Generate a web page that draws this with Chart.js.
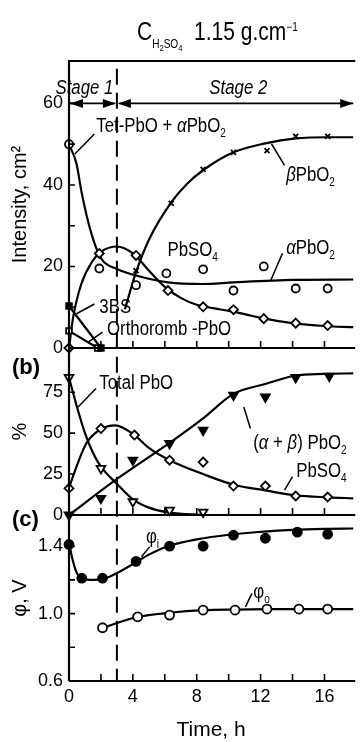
<!DOCTYPE html>
<html>
<head>
<meta charset="utf-8">
<script src="https://cdn.jsdelivr.net/npm/chart.js@4.4.0/dist/chart.umd.min.js"></script>
<style>
  html, body { margin: 0; padding: 0; background: #fff; overflow: hidden; }
</style>
</head>
<body>
<canvas id="grafico" width="360" height="742"></canvas>
<script>
var FUENTE = "'Liberation Sans', Arial, sans-serif";
var ANCHO = 0.84; // el texto del original es algo estrecho

// ---- panel (a): Intensity, cm2 ----
var tetCurva = [[0, 50], [0.47, 45.2], [0.77, 38.6], [1.18, 31.3], [1.69, 24.7], [2.1, 21.5], [3, 19.4], [4.2, 17.8], [6.2, 16.1], [8.4, 15.7], [10.3, 16.1], [14.1, 16.7], [17.8, 16.8]];
var tetPuntos = [[0, 50]];
var alfaPuntos = [[1.9, 19.5], [4.2, 15.4], [6.1, 18.3], [8.4, 19.3], [10.3, 14.1], [12.2, 20], [14.2, 14.6], [16.2, 14.6]];
var betaCurva = [[3.5, 9.5], [4.2, 18.6], [5, 26.5], [6.4, 35.7], [7.4, 40.3], [8.4, 43.6], [10.3, 48], [12.3, 50.2], [14.2, 51.4], [16.2, 51.7], [17.8, 51.7]];
var betaPuntos = [[4.2, 19], [6.4, 35.5], [8.4, 43.8], [10.3, 48], [12.4, 48.4], [14.2, 51.9], [16.2, 51.9]];
var sulfatoCurvaA = [[0, 0], [0.26, 7.5], [0.77, 15.7], [1.5, 21.5], [2, 23.6], [3, 24.9], [4, 23.2], [5, 19], [6, 15], [7, 12.3], [8, 10.6], [9, 9.8], [10, 9.1], [11, 8.3], [12, 7.4], [14, 6.1], [16, 5.4], [17.8, 5.1]];
var sulfatoPuntosA = [[0, 0], [1.9, 23.2], [4.2, 22.7], [6.2, 14.1], [8.4, 10.1], [10.3, 9.4], [12.2, 7.2], [14.2, 6.1], [16.2, 5.5]];
var tresBS = [[0, 10.3], [2, 0]];
var ortorromb = [[0, 4.2], [1.8, 0]];

// ---- panel (b): % ----
var totalCurva = [[0, 84], [0.5, 66], [1, 50], [1.5, 38], [2, 29.5], [3, 19], [4, 9.5], [5, 4.5], [6.3, 1.5], [8.4, 0]];
var totalPuntos = [[0, 84], [2, 28.5], [4, 8.1], [6.3, 3], [8.4, 1.8]];
var dioxCurva = [[0, 0], [2.9, 21.3], [6.3, 44], [8.4, 59], [10.3, 74], [12.3, 80], [14.2, 85.2], [16, 86.2], [17.8, 86.5]];
var dioxPuntos = [[0, 0], [2, 10.2], [4, 33.5], [6.3, 43.7], [8.4, 51.8], [10.3, 73.2], [12.3, 72.1], [14.2, 84], [16.3, 84.8]];
var sulfatoCurvaB = [[0, 16.5], [0.47, 29.5], [1.08, 43.7], [2, 52.5], [2.9, 54.8], [4.1, 48.8], [5, 41], [6.3, 33.5], [8.4, 25], [10.3, 18.5], [12.3, 15], [14.2, 12], [16.2, 10.8], [17.8, 10.2]];
var sulfatoPuntosB = [[0, 16.3], [2, 52.8], [4.1, 48.8], [6.3, 33.5], [8.4, 32.3], [10.3, 17.7], [12.3, 17.7], [14.2, 11.6], [16.2, 11]];

// ---- panel (c): potential, V ----
var fiICurva = [[0, 1.42], [0.2, 1.33], [0.45, 1.25], [0.8, 1.207], [1.5, 1.2], [2.2, 1.207], [3, 1.24], [4.2, 1.305], [5, 1.35], [6.2, 1.4], [8, 1.44], [10, 1.468], [12, 1.485], [14, 1.497], [16, 1.503], [17.8, 1.505]];
var fiIPuntos = [[0, 1.41], [0.8, 1.21], [2.1, 1.21], [4.2, 1.31], [6.3, 1.4], [8.4, 1.4], [10.3, 1.465], [12.3, 1.447], [14.3, 1.483], [16.2, 1.471]];
var fiOCurva = [[2.1, 0.916], [4.3, 0.98], [6.3, 1.005], [8.4, 1.02], [10.4, 1.024], [12.4, 1.026], [17.8, 1.027]];
var fiOPuntos = [[2.1, 0.916], [4.3, 0.981], [6.3, 0.991], [8.4, 1.021], [10.4, 1.021], [12.4, 1.027], [14.4, 1.027], [16.2, 1.027]];

// tick labels
var etiquetasX = [0, 4, 8, 12, 16];
var etiquetasA = [0, 20, 40, 60];
var etiquetasB = [0, 25, 50, 75];
var etiquetasC = [0.6, 1.0, 1.4];

// texts inside the plot (positions in data units of each panel)
var etiquetas = [
    {eje: 'ya', t: 1.71, v: 54.6, partes: [['Tet-PbO + '], ['α', 'i'], ['PbO'], ['2', 'sub']]},
    {eje: 'ya', t: 13.6, v: 42.6, partes: [['β', 'i'], ['PbO'], ['2', 'sub']]},
    {eje: 'ya', t: 13.6, v: 24.7, partes: [['α', 'i'], ['PbO'], ['2', 'sub']]},
    {eje: 'ya', t: 6.17, v: 24.4, partes: [['PbSO'], ['4', 'sub']]},
    {eje: 'ya', t: 1.9, v: 10.4, partes: [['3BS']]},
    {eje: 'ya', t: 2.38, v: 4.8, partes: [['Orthoromb -PbO']]},
    {eje: 'yb', t: 1.9, v: 81.3, partes: [['Total PbO']]},
    {eje: 'yb', t: 11.54, v: 44.7, partes: [['('], ['α', 'i'], [' + '], ['β', 'i'], [') PbO'], ['2', 'sub']]},
    {eje: 'yb', t: 14.23, v: 27.4, partes: [['PbSO'], ['4', 'sub']]},
    {eje: 'yc', t: 4.82, v: 1.459, partes: [['φ'], ['i', 'sub']]},
    {eje: 'yc', t: 11.54, v: 1.133, partes: [['φ'], ['o', 'sub']]}
];
var guias = [
    {eje: 'ya', de: [0.37, 47.6], a: [1.59, 52.5]},
    {eje: 'ya', de: [12.68, 50.1], a: [13.5, 44.8]},
    {eje: 'ya', de: [12.64, 16.6], a: [13.37, 23.2]},
    {eje: 'ya', de: [0.47, 8.4], a: [1.59, 10.8]},
    {eje: 'ya', de: [1.18, 1.4], a: [2.1, 3.9]},
    {eje: 'yb', de: [0.57, 66], a: [1.69, 77.3]},
    {eje: 'yb', de: [10.95, 66], a: [11.36, 52.8]},
    {eje: 'yb', de: [13.5, 15.2], a: [14.0, 23.4]},
    {eje: 'yc', de: [4.54, 1.337], a: [5.05, 1.396]},
    {eje: 'yc', de: [11.05, 1.04], a: [11.46, 1.12]}
];

function puntos(arr) {
    return arr.map(function (p) { return {x: p[0], y: p[1]}; });
}

function curva(arr, eje, suave) {
    return {
        data: puntos(arr), yAxisID: eje, showLine: true,
        borderColor: '#000', borderWidth: 2.2, pointRadius: 0,
        cubicInterpolationMode: suave ? 'monotone' : 'default', tension: 0,
        order: 2, clip: false
    };
}

function marcas(arr, eje, estilo, lleno, radio, giro) {
    return {
        data: puntos(arr), yAxisID: eje, showLine: false,
        pointStyle: estilo, pointRadius: radio, pointRotation: giro || 0,
        pointBackgroundColor: lleno ? '#000' : '#fff', pointBorderColor: '#000',
        pointBorderWidth: 1.8, order: 1, clip: false
    };
}

function fuente(tam, estilo) {
    return (estilo || '') + ' ' + tam + 'px ' + FUENTE;
}

// texto angosto, con subindices y cursivas
function escribir(ctx, partes, x, y, tam) {
    ctx.textAlign = 'left';
    ctx.textBaseline = 'alphabetic';
    partes.forEach(function (p) {
        var tipo = p[1] || 'n', size = tam, dy = 0, est = '';
        if (tipo === 'sub') { size = Math.round(tam * 0.62); dy = tam * 0.25; }
        if (tipo === 'subsub') { size = Math.round(tam * 0.34); dy = tam * 0.44; }
        if (tipo === 'sub2') { size = Math.round(tam * 0.46); dy = tam * 0.32; }
        if (tipo === 'sup') { size = Math.round(tam * 0.46); dy = -tam * 0.36; }
        if (tipo === 'i') est = 'italic';
        ctx.font = fuente(size, est);
        ctx.save();
        ctx.translate(x, y + dy);
        ctx.scale(ANCHO, 1);
        ctx.fillText(p[0], 0, 0);
        ctx.restore();
        x += ctx.measureText(p[0]).width * ANCHO;
    });
    return x;
}

function flecha(ctx, xp, yp, dir) {
    ctx.beginPath();
    ctx.moveTo(xp, yp);
    ctx.lineTo(xp - dir * 13, yp - 4.5);
    ctx.lineTo(xp - dir * 13, yp + 4.5);
    ctx.closePath();
    ctx.fill();
}

var anotaciones = {
    id: 'anotaciones',
    afterDraw: function (chart) {
        var ctx = chart.ctx, area = chart.chartArea, sc = chart.scales;
        var x = sc.x, paneles = [sc.ya, sc.yb, sc.yc];
        ctx.save();
        ctx.strokeStyle = '#000';
        ctx.fillStyle = '#000';

        // marco
        ctx.lineWidth = 2.2;
        ctx.beginPath();
        ctx.moveTo(area.right + 2, area.top);
        ctx.lineTo(area.left, area.top);
        ctx.lineTo(area.left, area.bottom);
        paneles.forEach(function (s) {
            ctx.moveTo(area.left, s.bottom);
            ctx.lineTo(area.right + 2, s.bottom);
        });
        ctx.stroke();

        // ticks hacia adentro
        ctx.lineWidth = 1.6;
        ctx.beginPath();
        paneles.forEach(function (s) {
            x.ticks.forEach(function (t) {
                if (t.value > 0 && t.value < x.max - 0.5) {
                    var px = x.getPixelForValue(t.value);
                    ctx.moveTo(px, s.bottom);
                    ctx.lineTo(px, s.bottom - 7);
                }
            });
            var paso = s.options.ticks.stepSize;
            s.ticks.forEach(function (t) {
                if (t.value > s.min + 1e-6 && t.value < s.max - paso / 2) {
                    var py = s.getPixelForValue(t.value);
                    ctx.moveTo(area.left, py);
                    ctx.lineTo(area.left + 6, py);
                }
            });
        });
        ctx.stroke();

        // linea discontinua t = 3 h
        var x3 = x.getPixelForValue(3);
        ctx.lineWidth = 2;
        ctx.setLineDash([16, 8]);
        ctx.beginPath();
        ctx.moveTo(x3, sc.ya.getPixelForValue(68.5));
        ctx.lineTo(x3, area.bottom);
        ctx.stroke();
        ctx.setLineDash([]);

        // flechas de etapas
        var y60 = sc.ya.getPixelForValue(60), x0 = x.getPixelForValue(0);
        ctx.lineWidth = 1.8;
        ctx.beginPath();
        ctx.moveTo(x0, y60); ctx.lineTo(x3 - 2, y60);
        ctx.moveTo(x3 + 2, y60); ctx.lineTo(area.right, y60);
        ctx.stroke();
        flecha(ctx, x0 + 1, y60, -1);
        flecha(ctx, x3 - 1, y60, 1);
        flecha(ctx, x3 + 1, y60, -1);
        flecha(ctx, area.right, y60, 1);
        var yEt = sc.ya.getPixelForValue(64.1) + 7;
        escribir(ctx, [['Stage 1', 'i']], x.getPixelForValue(-0.85), yEt, 20);
        escribir(ctx, [['Stage 2', 'i']], x.getPixelForValue(8.79), yEt, 20);

        // lineas guia
        ctx.lineWidth = 1.5;
        ctx.beginPath();
        guias.forEach(function (g) {
            ctx.moveTo(x.getPixelForValue(g.de[0]), sc[g.eje].getPixelForValue(g.de[1]));
            ctx.lineTo(x.getPixelForValue(g.a[0]), sc[g.eje].getPixelForValue(g.a[1]));
        });
        ctx.stroke();

        // rotulos de curvas
        etiquetas.forEach(function (e) {
            escribir(ctx, e.partes, x.getPixelForValue(e.t), sc[e.eje].getPixelForValue(e.v) + 7, 20);
        });

        // (b) y (c)
        ctx.font = 'bold 22px ' + FUENTE;
        ctx.textBaseline = 'middle';
        ctx.fillText('(b)', 12, 368);
        ctx.fillText('(c)', 12, 520);

        // titulo
        escribir(ctx, [['C'], ['H', 'sub2'], ['2', 'subsub'], ['SO', 'sub2'], ['4', 'subsub'], ['  1.15 g.cm'], ['\u22121', 'sup']], 137, 40, 25);
        ctx.restore();
    }
};

function ejeY(peso, orden, min, max, paso, lista, titulo, decimales) {
    return {
        type: 'linear', position: 'left', stack: 'paneles', stackWeight: peso, weight: orden,
        min: min, max: max,
        grid: {display: false, drawTicks: false},
        border: {display: false},
        ticks: {
            stepSize: paso, color: '#000', padding: 6, autoSkip: false, includeBounds: false,
            font: {family: FUENTE, size: 18},
            callback: function (v) {
                for (var i = 0; i < lista.length; i++) {
                    if (Math.abs(v - lista[i]) < 1e-6) return decimales ? lista[i].toFixed(1) : String(lista[i]);
                }
                return '';
            }
        },
        title: {display: true, text: titulo, color: '#000', font: {family: FUENTE, size: 20}, padding: {top: 8, bottom: 0}},
        afterFit: function (s) { s.width = 69; }
    };
}

var grafico = new Chart(document.getElementById('grafico'), {
    type: 'scatter',
    data: {
        datasets: [
            marcas(tetPuntos, 'ya', 'circle', false, 4),
            marcas(alfaPuntos, 'ya', 'circle', false, 4),
            marcas(betaPuntos, 'ya', 'crossRot', false, 3.5),
            marcas(sulfatoPuntosA, 'ya', 'rectRot', false, 4.5),
            marcas(tresBS, 'ya', 'rect', true, 4),
            marcas(ortorromb, 'ya', 'rect', false, 4),
            marcas(totalPuntos, 'yb', 'triangle', false, 5, 180),
            marcas(dioxPuntos, 'yb', 'triangle', true, 5, 180),
            marcas(sulfatoPuntosB, 'yb', 'rectRot', false, 4.5),
            marcas(fiIPuntos, 'yc', 'circle', true, 4.5),
            marcas(fiOPuntos, 'yc', 'circle', false, 4.5),
            curva(tetCurva, 'ya', true),
            curva(betaCurva, 'ya', true),
            curva(sulfatoCurvaA, 'ya', true),
            curva(tresBS, 'ya', false),
            curva(ortorromb, 'ya', false),
            curva(totalCurva, 'yb', true),
            curva(dioxCurva, 'yb', true),
            curva(sulfatoCurvaB, 'yb', true),
            curva(fiICurva, 'yc', true),
            curva(fiOCurva, 'yc', true)
        ]
    },
    options: {
        responsive: false,
        animation: false,
        devicePixelRatio: 1,
        layout: {padding: {top: 61, right: 0, bottom: 0, left: 0}},
        plugins: {legend: {display: false}, tooltip: {enabled: false}},
        scales: {
            x: {
                type: 'linear', position: 'bottom', min: 0, max: 17.8,
                grid: {display: false, drawTicks: false},
                border: {display: false},
                ticks: {
                    stepSize: 2, color: '#000', padding: 5, maxRotation: 0, autoSkip: false, includeBounds: false,
                    font: {family: FUENTE, size: 18},
                    callback: function (v) { return etiquetasX.indexOf(v) >= 0 ? String(v) : ''; }
                },
                title: {display: true, text: 'Time, h', color: '#000', font: {family: FUENTE, size: 21, lineHeight: 1}, padding: {top: 0, bottom: 1}},
                afterFit: function (s) { s.height = 61; }
            },
            ya: ejeY(287, 3, 0, 70.4, 10, etiquetasA, 'Intensity, cm\u00b2', false),
            yb: ejeY(167, 2, 0, 102, 25, etiquetasB, '%', false),
            yc: ejeY(166, 1, 0.6, 1.585, 0.2, etiquetasC, '\u03c6, V', true)
        }
    },
    plugins: [anotaciones]
});
</script>
</body>
</html>
